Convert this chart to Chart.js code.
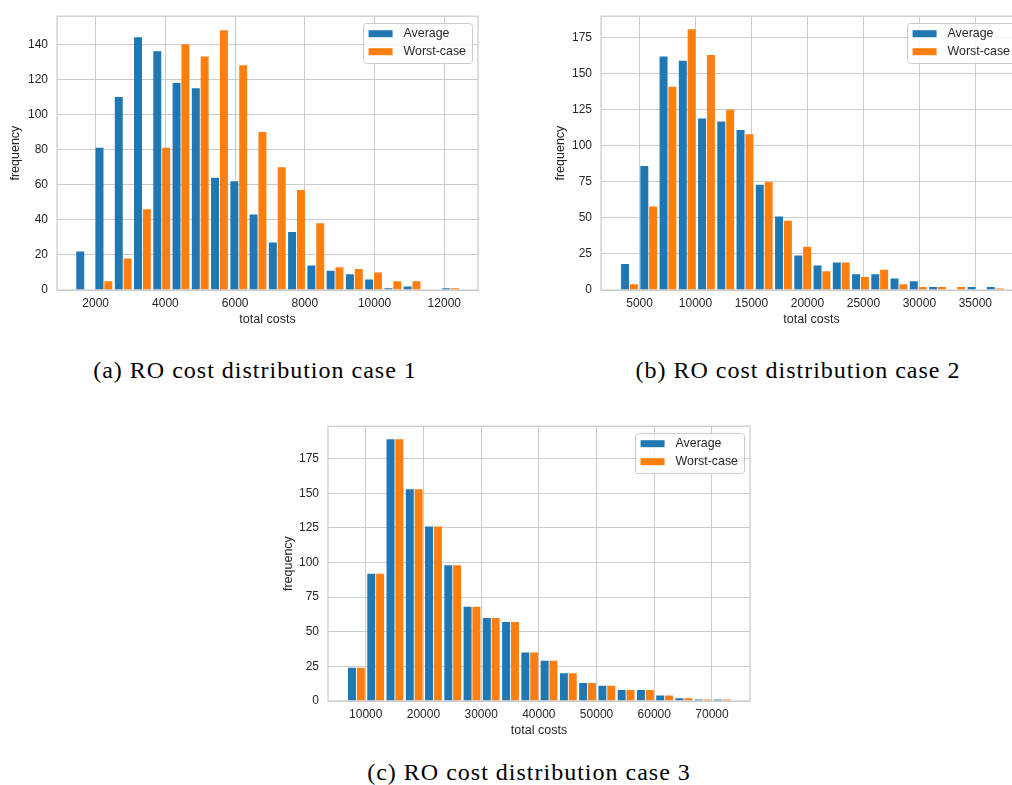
<!DOCTYPE html>
<html>
<head>
<meta charset="utf-8">
<title>RO cost distributions</title>
<script src="https://cdn.jsdelivr.net/npm/chart.js"></script>
<style>
    html, body {
        margin: 0;
        padding: 0;
        background: #fff;
        width: 1012px;
        height: 785px;
        overflow: hidden;
        position: relative;
    }
    canvas {
        position: absolute;
    }
    .caption {
        position: absolute;
        font-family: "Liberation Serif", serif;
        font-size: 24px;
        line-height: 24px;
        letter-spacing: 1px;
        color: #000;
        white-space: nowrap;
        transform: translateX(-50%);
    }
</style>
</head>
<body>
<canvas id="chartA" width="500" height="330" style="left:0px;top:0px"></canvas>
<canvas id="chartB" width="500" height="330" style="left:540px;top:0px"></canvas>
<canvas id="chartC" width="500" height="331" style="left:270px;top:410px"></canvas>

<div class="caption" style="left:255px;top:358px">(a) RO cost distribution case 1</div>
<div class="caption" style="left:798px;top:358px">(b) RO cost distribution case 2</div>
<div class="caption" style="left:529px;top:760px">(c) RO cost distribution case 3</div>

<script>
// series labels
const seriesNames = ['Average', 'Worst-case'];

// case 1: bin centres and counts
const binsA = [1684, 2236, 2789, 3341, 3894, 4446, 4999, 5551, 6104, 6656,
               7209, 7761, 8314, 8866, 9419, 9971, 10524, 11076, 11629, 12181];
const avgA = [22, 81, 110, 144, 136, 118, 115, 64, 62, 43, 27, 33, 14, 11, 9, 6, 1, 2, 0, 1];
const worstA = [0, 5, 18, 46, 81, 140, 133, 148, 128, 90, 70, 57, 38, 13, 12, 10, 5, 5, 0, 1];
const xTicksA = [2000, 4000, 6000, 8000, 10000, 12000];
const yTicksA = [0, 20, 40, 60, 80, 100, 120, 140];

// case 2
const binsB = [4098, 5818, 7538, 9258, 10978, 12698, 14418, 16138, 17858, 19578,
               21298, 23018, 24738, 26458, 28178, 29898, 31618, 33338, 35058, 36778];
const avgB = [18, 86, 162, 159, 119, 117, 111, 73, 51, 24, 17, 19, 11, 11, 8, 6, 2, 0, 2, 2];
const worstB = [4, 58, 141, 181, 163, 125, 108, 75, 48, 30, 13, 19, 9, 14, 4, 2, 2, 2, 0, 1];
const xTicksB = [5000, 10000, 15000, 20000, 25000, 30000, 35000];
const yTicksB = [0, 25, 50, 75, 100, 125, 150, 175];

// case 3
const binsC = [8387, 11725, 15063, 18401, 21739, 25077, 28415, 31753, 35091, 38429,
               41767, 45105, 48443, 51781, 55119, 58457, 61795, 65133, 68471, 71809];
const avgC = [24, 92, 189, 153, 126, 98, 68, 60, 57, 35, 29, 20, 13, 11, 8, 8, 4, 2, 1, 1];
const worstC = [24, 92, 189, 153, 126, 98, 68, 60, 57, 35, 29, 20, 13, 11, 8, 8, 4, 2, 1, 1];
const xTicksC = [10000, 20000, 30000, 40000, 50000, 60000, 70000];
const yTicksC = [0, 25, 50, 75, 100, 125, 150, 175];

const BLUE = '#1f77b4';
const ORANGE = '#ff7f0e';
const GRID = '#cccccc';
const TEXT = '#262626';
const SANS = '"Liberation Sans", Arial, sans-serif';

// frame around the plot area + legend box in the upper right corner
const frameAndLegend = {
    id: 'frameAndLegend',
    afterDraw(chart) {
        const { ctx, chartArea } = chart;
        ctx.save();
        ctx.strokeStyle = GRID;
        ctx.lineWidth = 1.25;
        ctx.strokeRect(chartArea.left, chartArea.top, chartArea.right - chartArea.left, chartArea.bottom - chartArea.top);

        ctx.font = '12.4px ' + SANS;
        const sets = chart.data.datasets;
        const textW = Math.max(...sets.map(d => ctx.measureText(d.label).width));
        const w = 6 + 24 + 11 + textW + 6;
        const h = 40;
        const x = chartArea.right - 6 - w;
        const y = chartArea.top + 7;
        ctx.beginPath();
        ctx.roundRect(Math.round(x) + 0.5, Math.round(y) + 0.5, Math.round(w), h, 3);
        ctx.fillStyle = 'rgba(255,255,255,0.8)';
        ctx.fill();
        ctx.lineWidth = 1;
        ctx.strokeStyle = GRID;
        ctx.stroke();
        sets.forEach((d, i) => {
            const cy = y + 10.5 + i * 18;
            ctx.fillStyle = d.backgroundColor;
            ctx.fillRect(x + 6, cy - 3.5, 24, 7);
            ctx.fillStyle = TEXT;
            ctx.textBaseline = 'middle';
            ctx.textAlign = 'left';
            ctx.fillText(d.label, x + 41, cy);
        });
        ctx.restore();
    }
};

function makeHist(id, cfg) {
    const toPoints = (counts) => cfg.bins.map((c, i) => ({ x: c, y: counts[i] }));
    const barStyle = { categoryPercentage: 0.92, barPercentage: 0.9, borderWidth: 0 };
    return new Chart(document.getElementById(id), {
        type: 'bar',
        data: {
            datasets: [
                { label: seriesNames[0], data: toPoints(cfg.avg), backgroundColor: BLUE, ...barStyle },
                { label: seriesNames[1], data: toPoints(cfg.worst), backgroundColor: ORANGE, ...barStyle }
            ]
        },
        plugins: [frameAndLegend],
        options: {
            responsive: false,
            animation: false,
            layout: { padding: { left: 0, top: cfg.padTop, right: cfg.padRight, bottom: 0 } },
            plugins: {
                legend: { display: false },
                tooltip: { enabled: false }
            },
            scales: {
                x: {
                    type: 'linear',
                    min: cfg.xMin,
                    max: cfg.xMax,
                    offset: false,
                    grid: { color: GRID, lineWidth: 1, drawTicks: false, offset: false },
                    border: { display: false },
                    ticks: {
                        autoSkip: false,
                        maxRotation: 0,
                        padding: 6,
                        color: TEXT,
                        font: { family: SANS, size: 12 },
                        callback: v => String(v)
                    },
                    afterBuildTicks: s => { s.ticks = cfg.xTicks.map(v => ({ value: v })); },
                    afterFit: s => { s.height = 40; },
                    title: {
                        display: true,
                        text: 'total costs',
                        color: TEXT,
                        font: { family: SANS, size: 12.5 },
                        padding: { top: 0, bottom: 3 }
                    }
                },
                y: {
                    min: 0,
                    max: cfg.yMax,
                    grid: { color: GRID, lineWidth: 1, drawTicks: false },
                    border: { display: false },
                    ticks: {
                        padding: 9,
                        color: TEXT,
                        font: { family: SANS, size: 12 }
                    },
                    afterBuildTicks: s => { s.ticks = cfg.yTicks.map(v => ({ value: v })); },
                    afterFit: s => { s.width = cfg.yWidth; },
                    title: {
                        display: true,
                        text: 'frequency',
                        color: TEXT,
                        font: { family: SANS, size: 12.5 },
                        padding: { top: cfg.yTitlePad, bottom: 0 }
                    }
                }
            }
        }
    });
}

makeHist('chartA', {
    bins: binsA, avg: avgA, worst: worstA, xTicks: xTicksA, yTicks: yTicksA,
    xMin: 890, xMax: 12967, yMax: 156,
    padTop: 15, padRight: 22, yWidth: 57, yTitlePad: 8.5
});

makeHist('chartB', {
    bins: binsB, avg: avgB, worst: worstB, xTicks: xTicksB, yTicks: yTicksB,
    xMin: 1554, xMax: 39170, yMax: 190,
    padTop: 16, padRight: 18, yWidth: 61, yTitlePad: 13.5
});

makeHist('chartC', {
    bins: binsC, avg: avgC, worst: worstC, xTicks: xTicksC, yTicks: yTicksC,
    xMin: 3463, xMax: 76589, yMax: 198.5,
    padTop: 16, padRight: 20, yWidth: 58, yTitlePad: 10.7
});
</script>
</body>
</html>
